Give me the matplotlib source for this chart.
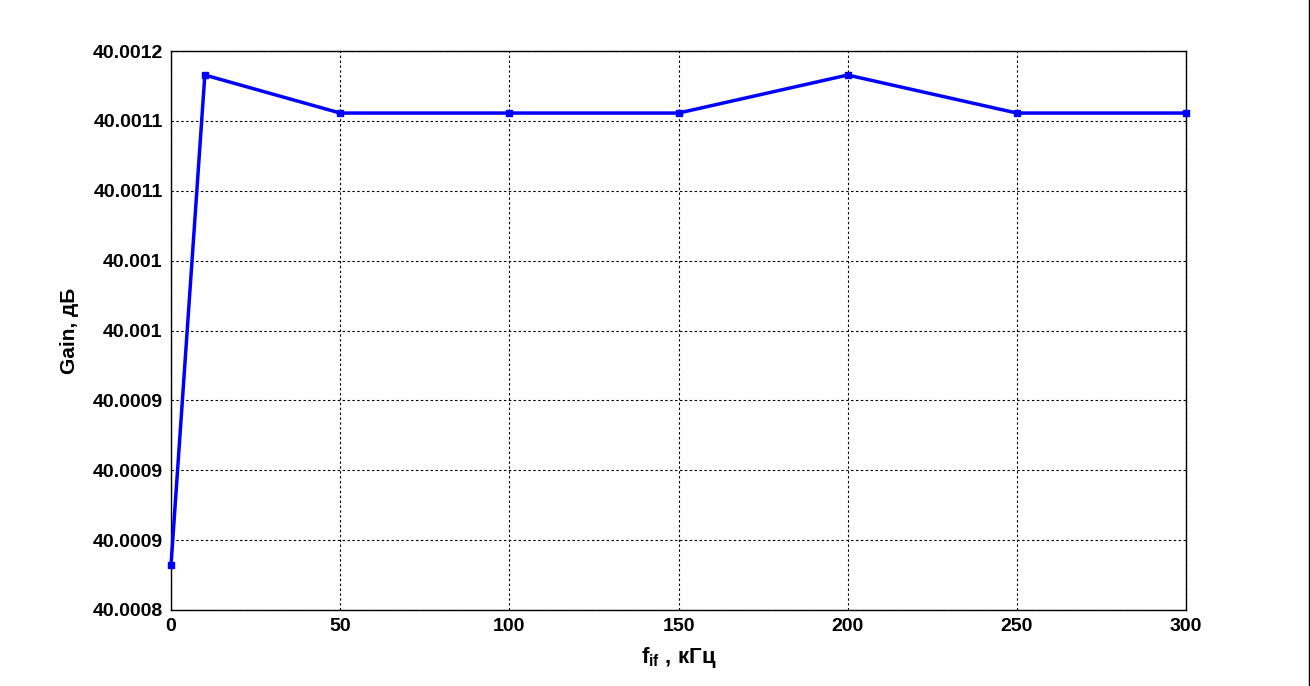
import matplotlib
matplotlib.use("Agg")
import matplotlib.pyplot as plt
from matplotlib.lines import Line2D

plt.rcParams['font.family'] = ['Liberation Sans', 'DejaVu Sans']
plt.rcParams['font.weight'] = 'bold'
plt.rcParams['mathtext.fontset'] = 'custom'
plt.rcParams['mathtext.bf'] = 'Liberation Sans:bold'
plt.rcParams['mathtext.rm'] = 'Liberation Sans:bold'
plt.rcParams['mathtext.it'] = 'Liberation Sans:bold'

# data
freq_khz = [0, 10, 50, 100, 150, 200, 250, 300]
gain_db = [40.000832, 40.0011828, 40.0011556, 40.0011556,
           40.0011556, 40.0011828, 40.0011556, 40.0011556]

x_ticks = [0, 50, 100, 150, 200, 250, 300]
y_ticks = [40.0008, 40.00085, 40.0009, 40.00095, 40.001,
           40.00105, 40.0011, 40.00115, 40.0012]
y_tick_labels = ["40.0008", "40.0009", "40.0009", "40.0009", "40.001",
                 "40.001", "40.0011", "40.0011", "40.0012"]

fig = plt.figure(figsize=(13.1, 6.86), dpi=100)
ax = fig.add_axes([171 / 1310, 76 / 686, 1015 / 1310, 559 / 686])

ax.plot(freq_khz, gain_db, color='#0000ff', linewidth=2.5,
        marker='s', markersize=5, clip_on=False, zorder=3)

ax.set_xlim(0, 300)
ax.set_ylim(40.0008, 40.0012)
ax.set_xticks(x_ticks)
ax.set_xticklabels([str(v) for v in x_ticks])
ax.set_yticks(y_ticks)
ax.set_yticklabels(y_tick_labels)
ax.tick_params(labelsize=14, length=0, pad=6)
for lbl in ax.get_xticklabels() + ax.get_yticklabels():
    lbl.set_fontweight('bold')

ax.grid(True, color='black', linestyle=(0, (2.2, 2.2)), linewidth=0.8)
for sp in ax.spines.values():
    sp.set_linewidth(1.0)

ax.set_xlabel(r'$\mathbf{f_{if}}$ , кГц', fontsize=16, fontweight='bold',
              labelpad=7)
ax.set_ylabel('Gain, дБ', fontsize=15, fontweight='bold', labelpad=10)

# right edge line of the window
fig.add_artist(Line2D([1309 / 1310, 1309 / 1310], [0, 1],
                      transform=fig.transFigure, color='black', linewidth=1))

fig.savefig('out.png', dpi=100)
